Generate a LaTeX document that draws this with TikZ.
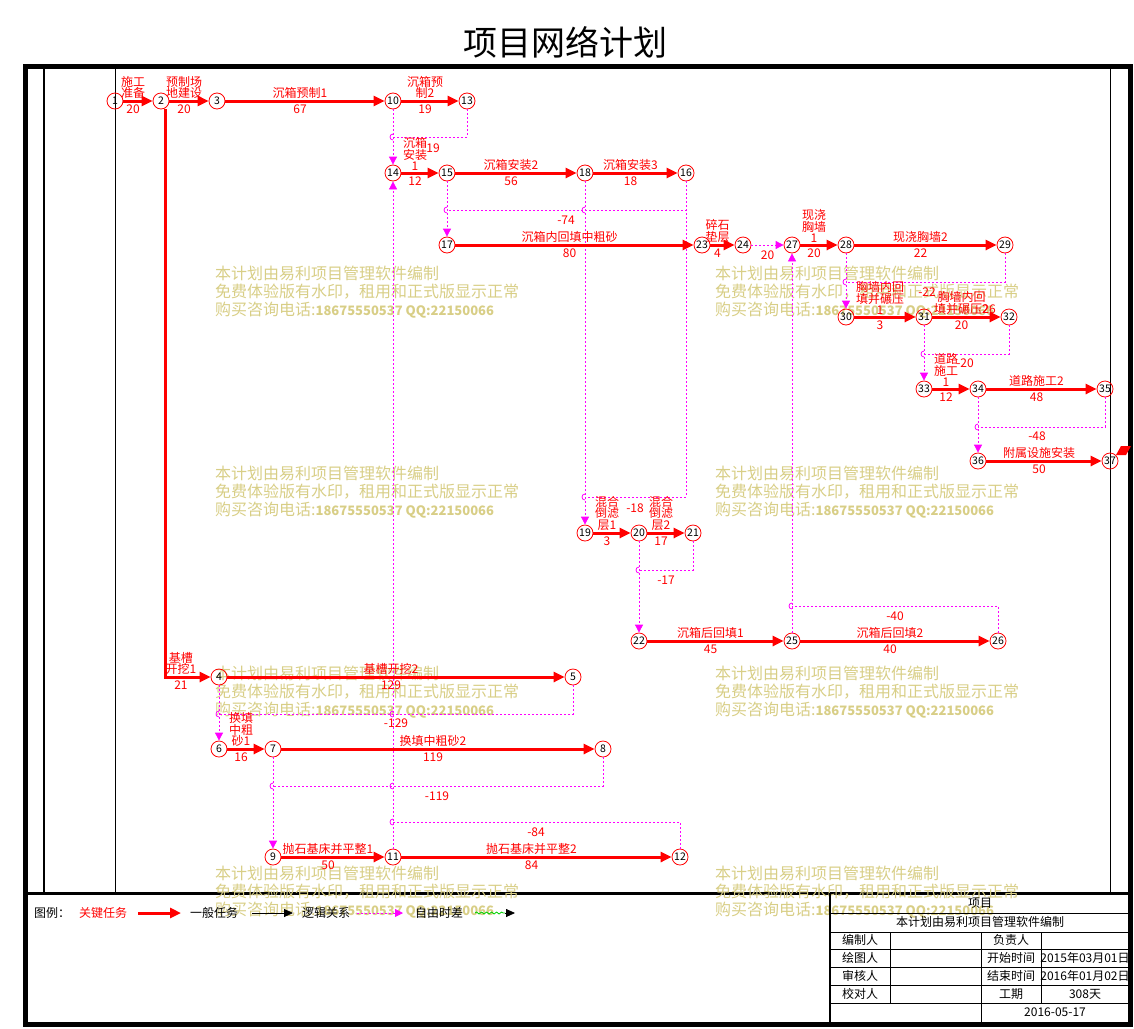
\documentclass[tikz,border=0pt]{standalone}
\usepackage{fontspec}
\setmainfont{Noto Sans CJK SC}
\usetikzlibrary{arrows.meta, calc, positioning, decorations.pathmorphing}
\definecolor{critred}{RGB}{255,0,0}
\definecolor{logicmag}{RGB}{255,0,255}
\definecolor{wmkhaki}{RGB}{216,206,134}
\definecolor{floatgreen}{RGB}{0,210,0}

\tikzset{
  ev/.style={circle, draw=critred, line width=0.8pt, minimum size=16pt, inner sep=0pt, font=\fontsize{10.5}{11}\selectfont},
  crit/.style={critred, line width=3pt, -{Triangle[length=11pt,width=10pt]}},
  logic/.style={logicmag, line width=0.8pt, dash pattern=on 2pt off 2pt},
  logicarr/.style={logic, -{Triangle[length=8pt,width=8pt]}},
  tasktop/.style={midway, above=0pt, xshift=-5pt, inner sep=1pt, text=critred, align=center, font=\fontsize{12}{11.5}\selectfont},
  taskdur/.style={midway, below=1pt, xshift=-5pt, inner sep=1pt, text=critred, font=\fontsize{12}{12}\selectfont},
  flt/.style={inner sep=0pt, text=critred, font=\fontsize{12}{12}\selectfont},
  wmark/.style={anchor=north west, inner sep=0pt, align=left, text=wmkhaki, font=\fontsize{16}{18}\selectfont},
  tbl/.style={inner sep=0pt, font=\fontsize{12}{12}\selectfont}
}
\newcommand{\wmtext}{本计划由易利项目管理软件编制\\免费体验版有水印，租用和正式版显示正常\\购买咨询电话:{\fontsize{13}{18}\selectfont\bfseries 18675550537 QQ:22150066}}
\newcommand{\hopat}[1]{\draw[logicmag, line width=0.8pt] ($(#1)+(0,-3)$) .. controls ($(#1)+(-4,-3)$) and ($(#1)+(-4,3)$) .. ($(#1)+(0,3)$);}

\begin{document}
\begin{tikzpicture}[x=1pt, y=-1pt, line join=miter]
    \useasboundingbox (0,0) rectangle (1134,1028);

    % title and frame
    \node[font=\fontsize{34}{34}\selectfont] (title) at (565,42) {项目网络计划};
    \draw[line width=5pt] (25,66) rectangle (1130,1024);
    \draw[line width=2pt] (44,66) -- (44,893);
    \draw[line width=0.8pt] (115,66) -- (115,893);
    \draw[line width=0.8pt] (1110,66) -- (1110,893);
    \draw[line width=3pt] (25,893) -- (1130,893);

    % watermarks
    \node[wmark] (wm1) at (215,266) {\wmtext};
    \node[wmark] (wm2) at (715,266) {\wmtext};
    \node[wmark] (wm3) at (215,466) {\wmtext};
    \node[wmark] (wm4) at (715,466) {\wmtext};
    \node[wmark] (wm5) at (215,666) {\wmtext};
    \node[wmark] (wm6) at (715,666) {\wmtext};
    \node[wmark] (wm7) at (215,866) {\wmtext};
    \node[wmark] (wm8) at (715,866) {\wmtext};

    % events
    \node[ev] (n1) at (115,101) {1};
    \node[ev] (n2) at (161,101) {2};
    \node[ev] (n3) at (217,101) {3};
    \node[ev] (n10) at (393,101) {10};
    \node[ev] (n13) at (467,101) {13};
    \node[ev] (n14) at (393,173) {14};
    \node[ev] (n15) at (447,173) {15};
    \node[ev] (n18) at (585,173) {18};
    \node[ev] (n16) at (686,173) {16};
    \node[ev] (n17) at (447,245) {17};
    \node[ev] (n23) at (702,245) {23};
    \node[ev] (n24) at (743,245) {24};
    \node[ev] (n27) at (792,245) {27};
    \node[ev] (n28) at (846,245) {28};
    \node[ev] (n29) at (1005,245) {29};
    \node[ev] (n30) at (846,317) {30};
    \node[ev] (n31) at (924,317) {31};
    \node[ev] (n32) at (1009,317) {32};
    \node[ev] (n33) at (924,389) {33};
    \node[ev] (n34) at (978,389) {34};
    \node[ev] (n35) at (1105,389) {35};
    \node[ev] (n36) at (978,461) {36};
    \node[ev] (n37) at (1110,461) {37};
    \node[ev] (n19) at (585,533) {19};
    \node[ev] (n20) at (639,533) {20};
    \node[ev] (n21) at (693,533) {21};
    \node[ev] (n22) at (639,641) {22};
    \node[ev] (n25) at (792,641) {25};
    \node[ev] (n26) at (998,641) {26};
    \node[ev] (n4) at (219,677) {4};
    \node[ev] (n5) at (573,677) {5};
    \node[ev] (n6) at (219,749) {6};
    \node[ev] (n7) at (273,749) {7};
    \node[ev] (n8) at (603,749) {8};
    \node[ev] (n9) at (273,857) {9};
    \node[ev] (n11) at (393,857) {11};
    \node[ev] (n12) at (680,857) {12};

    % logic links
    \coordinate (j13) at (393,137);
    \coordinate (j16a) at (447,210);
    \coordinate (j16b) at (585,497);
    \coordinate (j21) at (639,570);
    \coordinate (j26) at (792,606);
    \coordinate (j29) at (846,282);
    \coordinate (j32) at (924,354);
    \coordinate (j35) at (978,427);
    \coordinate (j5) at (219,714);
    \coordinate (j8) at (273,786);
    \coordinate (j12) at (393,822);

    \draw[logicarr] (n10) -- (n14);
    \draw[logic] (n13) |- (j13);
    \draw[logicarr] (n11) -- (n14);
    \draw[logic] (n12) |- (j12);
    \draw[logicarr] (n15) -- (n17);
    \draw[logic] (n16) |- (j16a);
    \draw[logicarr] (n18) -- (n19);
    \draw[logic] (n16) |- (j16b);
    \draw[logicarr] (n20) -- (n22);
    \draw[logic] (n21) |- (j21);
    \draw[logicarr] (n25) -- (n27);
    \draw[logic] (n26) |- (j26);
    \draw[logicarr] (n24) -- (n27) node[flt, midway, below=5pt] {20};
    \draw[logicarr] (n28) -- (n30);
    \draw[logic] (n29) |- (j29);
    \draw[logicarr] (n31) -- (n33);
    \draw[logic] (n32) |- (j32);
    \draw[logicarr] (n34) -- (n36);
    \draw[logic] (n35) |- (j35);
    \draw[logicarr] (n4) -- (n6);
    \draw[logic] (n5) |- (j5);
    \draw[logicarr] (n7) -- (n9);
    \draw[logic] (n8) |- (j8);

    \hopat{j13} \hopat{j16a} \hopat{585,210} \hopat{j16b} \hopat{j21}
    \hopat{j26} \hopat{j29} \hopat{j32} \hopat{j35} \hopat{j5}
    \hopat{393,714} \hopat{j8} \hopat{393,786} \hopat{j12}

    % free floats
    \node[flt] (f13) at (433,148) {19};
    \node[flt] (f16a) at (566,220) {-74};
    \node[flt] (f16b) at (635,508) {-18};
    \node[flt] (f21) at (666,580) {-17};
    \node[flt] (f26) at (895,616) {-40};
    \node[flt] (f29) at (927,292) {-22};
    \node[flt] (f32) at (965,363) {-20};
    \node[flt] (f35) at (1037,436) {-48};
    \node[flt] (f5) at (396,723) {-129};
    \node[flt] (f8) at (437,796) {-119};
    \node[flt] (f12) at (536,832) {-84};
    \node[flt] (f31) at (989,309) {26};

    % critical tasks
    \draw[crit] (n1) -- (n2) node[tasktop] {施工\\准备} node[taskdur] {20};
    \draw[crit] (n2) -- (n3) node[tasktop] {预制场\\地建设} node[taskdur] {20};
    \draw[crit] (n3) -- (n10) node[tasktop] {沉箱预制1} node[taskdur] {67};
    \draw[crit] (n10) -- (n13) node[tasktop] {沉箱预\\制2} node[taskdur] {19};
    \draw[crit] (n14) -- (n15) node[tasktop] {沉箱\\安装\\1} node[taskdur] {12};
    \draw[crit] (n15) -- (n18) node[tasktop] {沉箱安装2} node[taskdur] {56};
    \draw[crit] (n18) -- (n16) node[tasktop] {沉箱安装3} node[taskdur] {18};
    \draw[crit] (n17) -- (n23) node[tasktop] {沉箱内回填中粗砂} node[taskdur] {80};
    \draw[crit] (n23) -- (n24) node[tasktop] {碎石\\垫层} node[taskdur] {4};
    \draw[crit] (n27) -- (n28) node[tasktop] {现浇\\胸墙\\1} node[taskdur] {20};
    \draw[crit] (n28) -- (n29) node[tasktop] {现浇胸墙2} node[taskdur] {22};
    \draw[crit] (n30) -- (n31) node[tasktop] {胸墙内回\\填并碾压\\1} node[taskdur] {3};
    \draw[crit] (n31) -- (n32) node[tasktop] {胸墙内回\\填并碾压2} node[taskdur] {20};
    \draw[crit] (n33) -- (n34) node[tasktop] {道路\\施工\\1} node[taskdur] {12};
    \draw[crit] (n34) -- (n35) node[tasktop] {道路施工2} node[taskdur] {48};
    \draw[crit] (n36) -- (n37) node[tasktop] {附属设施安装} node[taskdur] {50};
    \draw[crit] (n19) -- (n20) node[tasktop] {混合\\倒滤\\层1} node[taskdur] {3};
    \draw[crit] (n20) -- (n21) node[tasktop] {混合\\倒滤\\层2} node[taskdur] {17};
    \draw[crit] (n22) -- (n25) node[tasktop] {沉箱后回填1} node[taskdur] {45};
    \draw[crit] (n25) -- (n26) node[tasktop] {沉箱后回填2} node[taskdur] {40};
    \draw[crit] ([xshift=4pt]n2.south) |- (n4) node[tasktop, pos=0.73] {基槽\\开挖1} node[taskdur, pos=0.73] {21};
    \draw[crit] (n4) -- (n5) node[tasktop] {基槽开挖2} node[taskdur] {129};
    \draw[crit] (n6) -- (n7) node[tasktop] {换填\\中粗\\砂1} node[taskdur] {16};
    \draw[crit] (n7) -- (n8) node[tasktop] {换填中粗砂2} node[taskdur] {119};
    \draw[crit] (n9) -- (n11) node[tasktop] {抛石基床并平整1} node[taskdur] {50};
    \draw[crit] (n11) -- (n12) node[tasktop] {抛石基床并平整2} node[taskdur] {84};
    \fill[critred] (1116,455) -- (1121,446) -- (1131,446) -- (1126,455) -- cycle;

    % legend
    \node[tbl] (lg0) at (52,913) {图例：};
    \node[tbl, text=critred] (lg1) at (103,913) {关键任务};
    \coordinate (lg1a) at (138,913);
    \coordinate (lg1b) at (181,913);
    \draw[crit] (lg1a) -- (lg1b);
    \node[tbl] (lg2) at (214,913) {一般任务};
    \coordinate (lg2a) at (252,913);
    \coordinate (lg2b) at (293,913);
    \draw[line width=0.8pt, -{Triangle[length=9pt,width=8pt]}] (lg2a) -- (lg2b);
    \node[tbl] (lg3) at (326,913) {逻辑关系};
    \coordinate (lg3a) at (357,913);
    \coordinate (lg3b) at (403,913);
    \draw[logicarr] (lg3a) -- (lg3b);
    \node[tbl] (lg4) at (439,913) {自由时差};
    \coordinate (lg4a) at (475,913);
    \coordinate (lg4b) at (505,913);
    \coordinate (lg4c) at (515,913);
    \draw[floatgreen, line width=0.8pt, decorate, decoration={snake, amplitude=1pt, segment length=5pt}] (lg4a) -- (lg4b);
    \draw[line width=0.8pt, -{Triangle[length=9pt,width=8pt]}] (lg4b) -- (lg4c);

    % title block
    \draw[line width=1.5pt] (830,893) -- (830,1024);
    \draw[line width=0.8pt] (830,913) -- (1130,913);
    \draw[line width=0.8pt] (830,932) -- (1130,932);
    \draw[line width=0.8pt] (830,949) -- (1130,949);
    \draw[line width=0.8pt] (830,967) -- (1130,967);
    \draw[line width=0.8pt] (830,985) -- (1130,985);
    \draw[line width=0.8pt] (830,1003) -- (1130,1003);
    \draw[line width=0.8pt] (890,932) -- (890,1003);
    \draw[line width=0.8pt] (981,932) -- (981,1024);
    \draw[line width=0.8pt] (1041,932) -- (1041,1003);
    \node[tbl] (tb0) at (980,903) {项目};
    \node[tbl] (tb1) at (980,922) {本计划由易利项目管理软件编制};
    \node[tbl] (tb2) at (860,940) {编制人};
    \node[tbl] (tb3) at (1011,940) {负责人};
    \node[tbl] (tb4) at (860,958) {绘图人};
    \node[tbl] (tb5) at (1011,958) {开始时间};
    \node[tbl] (tb6) at (1085,958) {2015年03月01日};
    \node[tbl] (tb7) at (860,976) {审核人};
    \node[tbl] (tb8) at (1011,976) {结束时间};
    \node[tbl] (tb9) at (1085,976) {2016年01月02日};
    \node[tbl] (tb10) at (860,994) {校对人};
    \node[tbl] (tb11) at (1011,994) {工期};
    \node[tbl] (tb12) at (1085,994) {308天};
    \node[tbl] (tb13) at (1055,1012) {2016-05-17};
\end{tikzpicture}
\end{document}
